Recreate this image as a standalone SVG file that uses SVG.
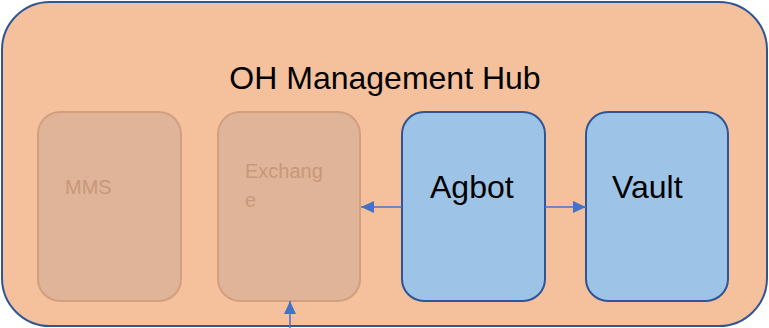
<svg xmlns="http://www.w3.org/2000/svg" width="769" height="328" viewBox="0 0 769 328">
<defs>
<style>
.hub{fill:#f5c19d;stroke:#2f5597;stroke-width:2}
.faded{fill:#e0b498;stroke:#d2a07f;stroke-width:2}
.active{fill:#9dc3e6;stroke:#2f5597;stroke-width:2}
.ftxt{font-family:"Liberation Sans",Arial,sans-serif;fill:#c8987a;font-size:20px}
.atxt{font-family:"Liberation Sans",Arial,sans-serif;fill:#000;font-size:32px}
.conn{stroke:#4472c4;stroke-width:1.5;fill:none}
</style>
<marker id="ah" markerWidth="14" markerHeight="14" refX="13" refY="7" orient="auto" markerUnits="userSpaceOnUse">
<path d="M0,1 L13,7 L0,13 z" fill="#4472c4"/>
</marker>
</defs>
<g id="hub">
<rect class="hub" x="2" y="2" width="765" height="324" rx="48" ry="48"/>
<text x="385" y="89" text-anchor="middle" font-family="Liberation Sans, Arial, sans-serif" font-size="32" fill="#000">OH Management Hub</text>
</g>
<g id="mms">
<rect class="faded" x="38" y="112" width="143" height="189" rx="22" ry="22"/>
<text class="ftxt" x="65" y="194">MMS</text>
</g>
<g id="exchange">
<rect class="faded" x="218" y="112" width="142" height="189" rx="22" ry="22"/>
<text class="ftxt" x="245" y="178">Exchang</text>
<text class="ftxt" x="245" y="207">e</text>
</g>
<g id="agbot">
<rect class="active" x="402" y="112" width="143" height="189" rx="22" ry="22"/>
<text class="atxt" x="430" y="198">Agbot</text>
</g>
<g id="vault">
<rect class="active" x="586" y="112" width="142" height="189" rx="22" ry="22"/>
<text class="atxt" x="612" y="198">Vault</text>
</g>
<g id="connectors">
<line class="conn" x1="402" y1="207" x2="361" y2="207" marker-end="url(#ah)"/>
<line class="conn" x1="545" y1="207" x2="586" y2="207" marker-end="url(#ah)"/>
<line class="conn" x1="290" y1="328" x2="290" y2="301" marker-end="url(#ah)"/>
</g>
</svg>
